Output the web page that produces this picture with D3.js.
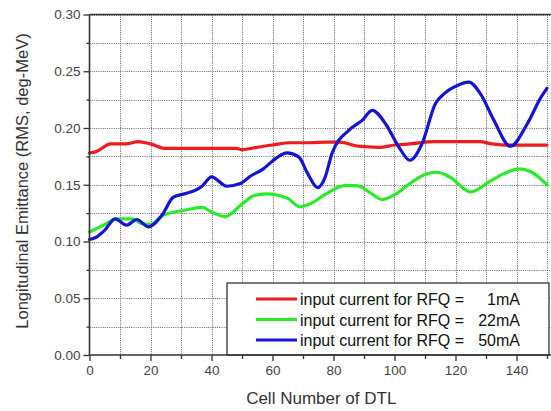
<!DOCTYPE html>
<html><head><meta charset="utf-8">
<script src="https://cdn.jsdelivr.net/npm/d3@7"></script>
<style>
body{margin:0;background:#fff;}
svg{display:block;font-family:Arial,"Liberation Sans",sans-serif;}
</style></head>
<body><svg id="c" width="551" height="411"></svg>
<script>
const xTicks = [0,20,40,60,80,100,120,140];
const xMinor = [10,30,50,70,90,110,130,150];
const yTicks = [0,0.05,0.10,0.15,0.20,0.25,0.30];
const yMinor = [0.025,0.075,0.125,0.175,0.225,0.275];

const seriesNames = ["1mA","22mA","50mA"];
const legendPrefix = "input current for RFQ =";

const redX = [0,2,7,12,16,20,25,30,40,48,50,55,60,66,72,78,82,88,95,100,105,113,120,128,132,136,142,150];
const redY = [0.178,0.179,0.186,0.186,0.188,0.186,0.182,0.182,0.182,0.182,0.181,0.183,0.185,0.187,0.187,0.1875,0.1875,0.184,0.183,0.185,0.186,0.188,0.188,0.188,0.186,0.185,0.185,0.185];

const greenX = [0,2,5,9,14,17,20,24,31,37,40,44.5,50,54,58,65,69,73,77,84,88,92,96,100,104,110,114,118,125,131,136,141,145,150];
const greenY = [0.1085,0.111,0.115,0.120,0.120,0.116,0.115,0.123,0.1275,0.130,0.126,0.122,0.133,0.1405,0.142,0.138,0.1305,0.134,0.141,0.1495,0.149,0.143,0.137,0.141,0.149,0.159,0.161,0.157,0.1437,0.1525,0.160,0.164,0.161,0.150];

const blueX = [0,2,5,8.4,12.2,15.5,19.3,23.7,27.5,31.4,34.6,37,40,45,49.4,52.7,57,61,64.7,68.6,71.5,74.8,77.3,79.5,85,89.4,92.7,97,101.4,105,109,113.4,116.2,120.6,124.4,128.2,132.6,138,143.6,148,150];
const blueY = [0.1018,0.1035,0.110,0.120,0.1144,0.1194,0.1129,0.123,0.139,0.1422,0.145,0.149,0.157,0.1487,0.151,0.1575,0.164,0.173,0.178,0.1745,0.160,0.1475,0.157,0.1775,0.198,0.2067,0.2155,0.204,0.1833,0.1716,0.186,0.2214,0.230,0.2375,0.2404,0.230,0.2067,0.1839,0.204,0.227,0.235];

const colors = ["#ee1c1c","#2aea2a","#1414d4"];

const L=89.5, R=547, T=14.5, B=355;
const svg = d3.select("#c");
const x = d3.scaleLinear().domain([0,150]).range([L,R]);
const y = d3.scaleLinear().domain([0,0.30]).range([B,T]);

// grid
const grid = svg.append("g").attr("stroke","#666").attr("stroke-width",1).attr("stroke-dasharray","1,1.2");
xTicks.concat(xMinor).filter(v=>v>0).forEach(v=>{
  grid.append("line").attr("x1",Math.round(x(v))+0.5).attr("x2",Math.round(x(v))+0.5).attr("y1",T).attr("y2",B);
});
yTicks.concat(yMinor).filter(v=>v>0).forEach(v=>{
  grid.append("line").attr("y1",Math.round(y(v))+0.5).attr("y2",Math.round(y(v))+0.5).attr("x1",L).attr("x2",551);
});

// lines
const sets = [[redX,redY],[greenX,greenY],[blueX,blueY]];
const line = d3.line().x(d=>x(d[0])).y(d=>y(d[1])).curve(d3.curveMonotoneX);
sets.forEach((s,i)=>{
  const pts = s[0].map((v,j)=>[v,s[1][j]]);
  svg.append("path").attr("d",line(pts)).attr("fill","none").attr("stroke",colors[i])
    .attr("stroke-width",3.2).attr("stroke-linejoin","round").attr("stroke-linecap","round");
});

// legend
const lg = svg.append("g");
lg.append("rect").attr("x",227).attr("y",283).attr("width",322).attr("height",72)
  .attr("fill","#fff").attr("stroke","#333").attr("stroke-width",1.3);
seriesNames.forEach((n,i)=>{
  const yy = 299 + i*20.5;
  lg.append("line").attr("x1",256).attr("x2",297).attr("y1",yy).attr("y2",yy).attr("stroke",colors[i]).attr("stroke-width",3);
  lg.append("text").attr("x",300).attr("y",yy+6).attr("font-size",16).attr("fill","#111").text(legendPrefix);
  lg.append("text").attr("x",520).attr("y",yy+6).attr("font-size",16).attr("fill","#111").attr("text-anchor","end").text(n);
});

// axes
const fmt = d3.format(".2f");
svg.append("g").attr("transform",`translate(${L},0)`)
  .call(d3.axisLeft(y).tickValues(yTicks).tickFormat(fmt).tickSize(6).tickPadding(3));
svg.append("g").attr("transform",`translate(${L},0)`)
  .call(d3.axisLeft(y).tickValues(yMinor).tickFormat("").tickSize(3)).select(".domain").remove();
svg.append("g").attr("transform",`translate(0,${B})`)
  .call(d3.axisBottom(x).tickValues(xTicks).tickSize(6).tickPadding(4));
svg.append("g").attr("transform",`translate(0,${B})`)
  .call(d3.axisBottom(x).tickValues(xMinor).tickFormat("").tickSize(4)).select(".domain").remove();
svg.selectAll(".domain").remove();
svg.selectAll(".tick line").attr("stroke","#333").attr("stroke-width",1.3);
svg.selectAll(".tick text").attr("font-size",13.5).attr("fill","#444").attr("font-family","Arial, 'Liberation Sans', sans-serif");

// frame
svg.append("line").attr("x1",L).attr("x2",L).attr("y1",T).attr("y2",B).attr("stroke","#333").attr("stroke-width",1.6);
svg.append("line").attr("x1",L).attr("x2",551).attr("y1",B).attr("y2",B).attr("stroke","#333").attr("stroke-width",1.6);
svg.append("line").attr("x1",L).attr("x2",551).attr("y1",T).attr("y2",T).attr("stroke","#333").attr("stroke-width",1.6);

// titles
svg.append("text").attr("x",(L+R)/2+3).attr("y",404).attr("text-anchor","middle").attr("font-size",17).attr("fill","#333").text("Cell Number of DTL");
svg.append("text").attr("transform","translate(28,181) rotate(-90)").attr("text-anchor","middle").attr("font-size",16.5).attr("fill","#333").text("Longitudinal Emittance (RMS, deg-MeV)");
</script></body></html>
